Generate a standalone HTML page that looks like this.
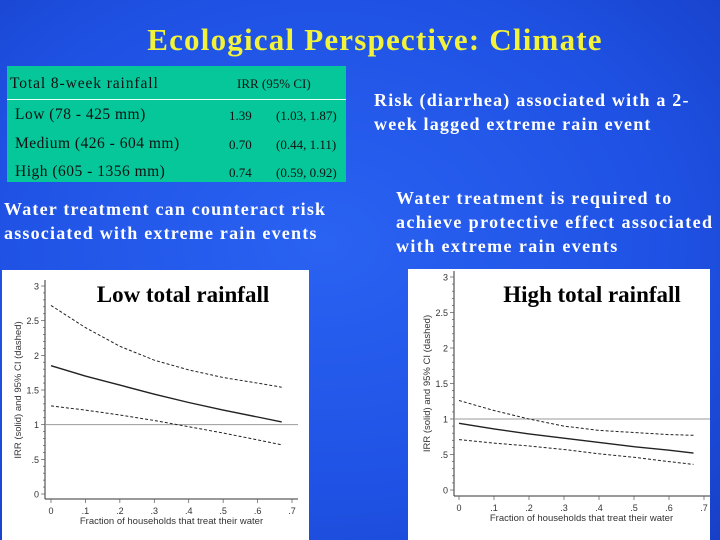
<!DOCTYPE html>
<html><head><meta charset="utf-8"><style>
body{margin:0;width:720px;height:540px;overflow:hidden;background:radial-gradient(ellipse at 45% 45%,#2a62f2 0%,#1f52e4 60%,#1740c8 100%);font-family:"Liberation Serif",serif;position:relative}
.abs{position:absolute}
#title{left:0;width:750px;top:22px;text-align:center;color:#f2f23a;font-weight:bold;font-size:31px;letter-spacing:1.2px}
#tbl{left:7px;top:66px;width:339px;height:116px;background:#05c79a;font-size:15.5px;color:#111}
.t{position:absolute;white-space:nowrap}
.w{color:#fff;font-weight:bold;font-size:18px;line-height:24px;letter-spacing:1.2px;white-space:nowrap}
.box{background:#fff}
</style></head><body>
<div id="title" class="abs">Ecological Perspective: Climate</div>
<div id="tbl" class="abs">
 <div class="t" style="left:3px;top:9px;letter-spacing:0.9px">Total 8-week rainfall</div>
 <div class="t" style="left:230px;top:10px;font-size:13px">IRR (95% CI)</div>
 <div class="abs" style="left:0;top:33px;width:339px;height:1px;background:#e8fff8"></div>
 <div class="t" style="left:8px;top:40px;letter-spacing:0.5px">Low (78 - 425 mm)</div>
 <div class="t" style="left:222px;top:42px;font-size:13px">1.39</div>
 <div class="t" style="left:269px;top:42px;font-size:13px">(1.03, 1.87)</div>
 <div class="t" style="left:8px;top:69px;letter-spacing:0.5px">Medium (426 - 604 mm)</div>
 <div class="t" style="left:222px;top:71px;font-size:13px">0.70</div>
 <div class="t" style="left:269px;top:71px;font-size:13px">(0.44, 1.11)</div>
 <div class="t" style="left:8px;top:97px;letter-spacing:0.5px">High (605 - 1356 mm)</div>
 <div class="t" style="left:222px;top:99px;font-size:13px">0.74</div>
 <div class="t" style="left:269px;top:99px;font-size:13px">(0.59, 0.92)</div>
</div>
<div class="abs w" style="left:4px;top:197px">Water treatment can counteract risk<br>associated with extreme rain events</div>
<div class="abs w" style="left:374px;top:88px">Risk (diarrhea) associated with a 2-<br>week lagged extreme rain event</div>
<div class="abs w" style="left:396px;top:186px;letter-spacing:1.4px">Water treatment is required to<br>achieve protective effect associated<br>with extreme rain events</div>
<div class="abs box" style="left:2px;top:270px;width:307px;height:270px"></div>
<div class="abs box" style="left:408px;top:269px;width:302px;height:271px"></div>
<svg class="abs" style="left:0;top:0" width="720" height="540" id="svg"></svg>
<script>
const xVals=[0,0.1,0.2,0.3,0.4,0.5,0.6,0.67];
const lowUpper=[2.72,2.4,2.13,1.93,1.79,1.68,1.6,1.54];
const lowIRR=[1.85,1.7,1.57,1.44,1.32,1.21,1.11,1.04];
const lowLower=[1.27,1.21,1.14,1.06,0.97,0.88,0.78,0.71];
const highUpper=[1.26,1.12,1.0,0.9,0.84,0.81,0.78,0.77];
const highIRR=[0.94,0.86,0.79,0.73,0.67,0.61,0.56,0.52];
const highLower=[0.71,0.66,0.62,0.57,0.51,0.46,0.4,0.36];
const xTicks=[0,0.1,0.2,0.3,0.4,0.5,0.6,0.7];
const xTickLabels=["0",".1",".2",".3",".4",".5",".6",".7"];
const yTicks=[0,0.5,1,1.5,2,2.5,3];
const yTickLabels=["0",".5","1","1.5","2","2.5","3"];
const NS="http://www.w3.org/2000/svg";
const svg=document.getElementById('svg');
function mk(t,a){const e=document.createElementNS(NS,t);for(const k in a)e.setAttribute(k,a[k]);svg.appendChild(e);return e;}
function chart(prefix,g,series,title,tx,ty){
 const X=v=>g.x0+(g.x7-g.x0)*v/0.7, Y=v=>g.y0-(g.y0-g.y3)*v/3;
 let e=mk('line',{x1:g.ax,y1:g.y3-6,x2:g.ax,y2:g.xa,stroke:'#333','stroke-width':1});
 
 e=mk('line',{x1:g.ax,y1:g.xa,x2:g.x7+6,y2:g.xa,stroke:'#333','stroke-width':1});
 
 for(let v=0;v<=3.001;v+=0.1){mk('line',{x1:g.ax-(Math.abs(v*2-Math.round(v*2))<0.01?4:2),y1:Y(v),x2:g.ax,y2:Y(v),stroke:'#555','stroke-width':0.7});}
 yTicks.forEach((v,i)=>{e=mk('text',{x:g.ax-6,y:Y(v)+3.5,'text-anchor':'end','font-size':9,fill:'#333','font-family':'Liberation Sans,sans-serif'});e.textContent=yTickLabels[i];
  });
 xTicks.forEach((v,i)=>{mk('line',{x1:X(v),y1:g.xa,x2:X(v),y2:g.xa+4,stroke:'#555','stroke-width':0.7});
  e=mk('text',{x:X(v),y:g.xa+15,'text-anchor':'middle','font-size':9,fill:'#333','font-family':'Liberation Sans,sans-serif'});e.textContent=xTickLabels[i];
  });
 e=mk('text',{x:(g.x0+g.x7)/2,y:g.xa+25,'text-anchor':'middle','font-size':9.5,fill:'#333','font-family':'Liberation Sans,sans-serif'});e.textContent='Fraction of households that treat their water';
 
 const cy=(g.y0+g.y3)/2;
 e=mk('text',{x:g.ax-24,y:cy,'text-anchor':'middle','font-size':9.5,fill:'#333','font-family':'Liberation Sans,sans-serif',transform:`rotate(-90 ${g.ax-24} ${cy})`});e.textContent='IRR (solid) and 95% CI (dashed)';
 
 e=mk('line',{x1:g.ax,y1:Y(1),x2:g.x7+6,y2:Y(1),stroke:'#999','stroke-width':1});
 
 series.forEach(s=>{const pts=xVals.map((x,i)=>X(x).toFixed(1)+','+Y(s.v[i]).toFixed(1)).join(' ');
  e=mk('polyline',{points:pts,fill:'none',stroke:'#222','stroke-width':s.dash?1:1.4,'stroke-dasharray':s.dash?'3,2':'none'});
  });
 e=mk('text',{x:tx,y:ty,'text-anchor':'middle','font-size':23,'font-weight':'bold',fill:'#000','font-family':'Liberation Serif,serif'});e.textContent=title;
 
}
chart('low',{x0:51,x7:292,y0:494,y3:286,ax:45,xa:499},[{v:lowUpper,dash:1,name:'low-upper-ci-line'},{v:lowIRR,dash:0,name:'low-irr-line'},{v:lowLower,dash:1,name:'low-lower-ci-line'}],'Low total rainfall',183,302);
chart('high',{x0:459,x7:704,y0:490,y3:277,ax:454,xa:496},[{v:highUpper,dash:1,name:'high-upper-ci-line'},{v:highIRR,dash:0,name:'high-irr-line'},{v:highLower,dash:1,name:'high-lower-ci-line'}],'High total rainfall',592,302);
</script>
</body></html>
